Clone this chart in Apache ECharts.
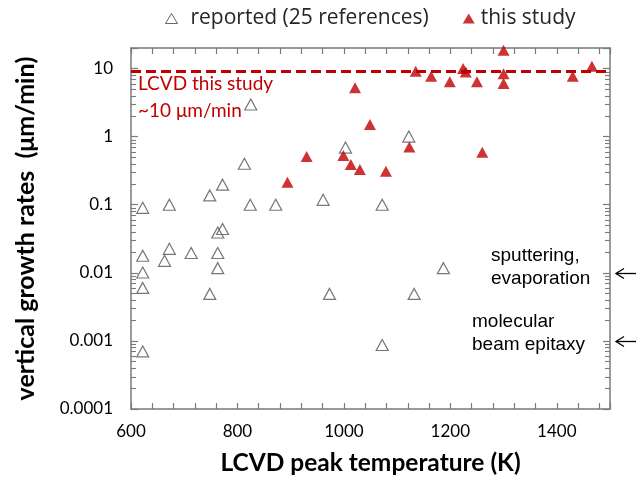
<!DOCTYPE html>
<html><head><meta charset="utf-8">
<script src="https://cdn.jsdelivr.net/npm/echarts@6/dist/echarts.min.js"></script>
<style>html,body{margin:0;padding:0;background:#fff}#c{width:636px;height:484px}</style>
</head><body><div id="c"></div>
<script>
// ---- data ----
const reportedTemp = [622, 672, 748, 772, 813, 825, 824, 872, 961, 1003, 1072, 1122, 772, 763, 672, 622, 663, 713, 763, 763, 622, 622, 748, 973, 1132, 1187, 1072, 622];
const reportedRate = [0.09, 0.1, 0.137, 0.197, 0.4, 2.96, 0.1, 0.1, 0.118, 0.69, 0.1, 1.0, 0.044, 0.039, 0.0225, 0.0178, 0.015, 0.0195, 0.0195, 0.0117, 0.0101, 0.006, 0.0049, 0.0049, 0.0049, 0.0117, 0.00087, 0.0007];
const studyTemp = [894, 930, 999, 1013, 1021, 1030, 1049, 1079, 1123, 1135, 1164, 1199, 1224, 1229, 1250, 1260, 1300, 1300, 1300, 1430, 1466];
const studyRate = [0.213, 0.51, 0.53, 0.39, 5.2, 0.33, 1.5, 0.31, 0.705, 9.1, 7.7, 6.4, 10, 8.9, 6.4, 0.59, 18.6, 8.4, 6.0, 7.7, 10.8];
const lcvdLevel = 9;
const xTickLabels = ['600', '800', '1000', '1200', '1400'];
const yTickLabels = ['0.0001', '0.001', '0.01', '0.1', '1', '10'];
const sputterRate = 0.01;
const mbeRate = 0.001;
const seriesNames = ['reported (25 references)', 'this study'];

// minor log ticks (2..9 per decade) as axis decoration
const yMinorTicks = [];
for (let e = -4; e <= 1; e++) for (let k = 2; k <= 9; k++) { const v = k * Math.pow(10, e); if (v < 20) yMinorTicks.push(v); }

const RED = '#C00000';
const AX = '#7a7a7a';

const chart = echarts.init(document.getElementById('c'));

function yFmt(v) {
  for (const s of yTickLabels) { const n = Number(s); if (Math.abs(v - n) < n * 1e-6) return s; }
  return '';
}
function xFmt(v) { return xTickLabels.includes(String(v)) ? String(v) : ''; }

const xBase = {
  type: 'value', min: 600, max: 1500, interval: 40,
  axisLine: { show: true, onZero: false, lineStyle: { color: AX, width: 1.5 } },
  axisTick: { show: true, inside: true, length: 6, lineStyle: { color: AX, width: 1.2 } },
  splitLine: { show: false }
};
const yBase = {
  type: 'log', logBase: 10, min: 0.0001, max: 20, interval: 1,
  axisLine: { show: true, onZero: false, lineStyle: { color: AX, width: 1.5 } },
  axisTick: { show: true, inside: true, length: 7, lineStyle: { color: AX, width: 1.2 } },
  splitLine: { show: false }
};

const textGraphics = [
  { id: 't1', type: 'text', left: 138, top: 70, silent: true,
    style: { text: 'LCVD this study\n~10 \u03bcm/min', fill: RED, fontFamily: 'Lato', fontSize: 19, lineHeight: 27 } },
  { id: 't2', type: 'text', left: 491, top: 244, silent: true,
    style: { text: 'sputtering,\nevaporation', fill: '#000', fontFamily: 'Liberation Sans', fontSize: 19, lineHeight: 23 } },
  { id: 't3', type: 'text', left: 472, top: 310, silent: true,
    style: { text: 'molecular\nbeam epitaxy', fill: '#000', fontFamily: 'Liberation Sans', fontSize: 19, lineHeight: 23 } }
];

chart.setOption({
  animation: false,
  backgroundColor: '#fff',
  grid: { left: 131, right: 26, top: 48, bottom: 75, containLabel: false },
  legend: {
    left: 160, top: 3,
    itemWidth: 12, itemHeight: 10, itemGap: 34,
    textStyle: { fontFamily: 'Open Sans', fontSize: 21, color: '#262626' },
    data: [
      { name: seriesNames[0], icon: 'triangle', textStyle: { padding: [0, 0, 0, 8] },
        itemStyle: { color: 'rgba(0,0,0,0)', borderColor: '#404040', borderWidth: 1 } },
      { name: seriesNames[1], icon: 'triangle', textStyle: { padding: [0, 0, 0, 1] },
        itemStyle: { color: RED } }
    ]
  },
  xAxis: [
    Object.assign({}, xBase, {
      position: 'bottom',
      axisLabel: { formatter: xFmt, margin: 14, fontFamily: 'Lato', fontSize: 17, color: '#000' },
      name: 'LCVD peak temperature (K)', nameLocation: 'middle', nameGap: 42,
      nameTextStyle: { fontFamily: 'Lato', fontWeight: 'bold', fontSize: 24.5, color: '#000' }
    }),
    Object.assign({}, xBase, { position: 'top', axisLabel: { show: false } })
  ],
  yAxis: [
    Object.assign({}, yBase, {
      position: 'left',
      axisLabel: { formatter: yFmt, margin: 18, fontFamily: 'Lato', fontSize: 17, color: '#000' },
      name: 'vertical growth rates  (\u03bcm/min)', nameLocation: 'middle', nameGap: 93,
      nameTextStyle: { fontFamily: 'Lato', fontWeight: 'bold', fontSize: 25, color: '#000' }
    }),
    Object.assign({}, yBase, { position: 'right', axisLabel: { show: false } })
  ],
  series: [
    {
      type: 'custom', name: 'minorTicks', silent: true, xAxisIndex: 0, yAxisIndex: 0, clip: false,
      data: yMinorTicks.map(v => [600, v]),
      renderItem: function (params, api) {
        const p = api.coord([api.value(0), api.value(1)]);
        const cs = params.coordSys;
        const y = Math.round(p[1]) + 0.5;
        const st = { stroke: AX, lineWidth: 1.1 };
        return { type: 'group', children: [
          { type: 'line', shape: { x1: cs.x, y1: y, x2: cs.x + 5, y2: y }, style: st },
          { type: 'line', shape: { x1: cs.x + cs.width - 5, y1: y, x2: cs.x + cs.width, y2: y }, style: st }
        ] };
      },
      z: 1
    },
    {
      type: 'scatter', name: seriesNames[0], clip: false,
      symbol: 'triangle', symbolSize: [12, 11],
      itemStyle: { color: 'rgba(0,0,0,0)', borderColor: '#555', borderWidth: 1.2 },
      data: reportedTemp.map((t, i) => [t, reportedRate[i]]),
      z: 3
    },
    {
      type: 'scatter', name: seriesNames[1], clip: false,
      symbol: 'triangle', symbolSize: [12, 11],
      itemStyle: { color: RED },
      data: studyTemp.map((t, i) => [t, studyRate[i]]),
      markLine: {
        silent: true, symbol: ['none', 'none'], label: { show: false },
        lineStyle: { color: RED, width: 3, type: [10, 5] },
        data: [[{ coord: [600, lcvdLevel] }, { coord: [1500, lcvdLevel] }]]
      },
      z: 4
    }
  ],
  graphic: textGraphics
});

// arrows outside the right edge, placed through the chart's own scales
const arrowGraphics = [sputterRate, mbeRate].map((rate, i) => {
  const p = chart.convertToPixel({ xAxisIndex: 0, yAxisIndex: 0 }, [1500, rate]);
  const x0 = p[0] + 6, y = Math.round(p[1]) + 0.5;
  return { id: 'arrow' + i, type: 'group', silent: true, children: [
    { type: 'line', shape: { x1: x0, y1: y, x2: 636, y2: y }, style: { stroke: '#000', lineWidth: 1.3 } },
    { type: 'polyline', shape: { points: [[x0 + 8, y - 5], [x0, y], [x0 + 8, y + 5]] }, style: { stroke: '#000', fill: null, lineWidth: 1.3 } }
  ] };
});
chart.setOption({ graphic: textGraphics.concat(arrowGraphics) });
</script></body></html>
